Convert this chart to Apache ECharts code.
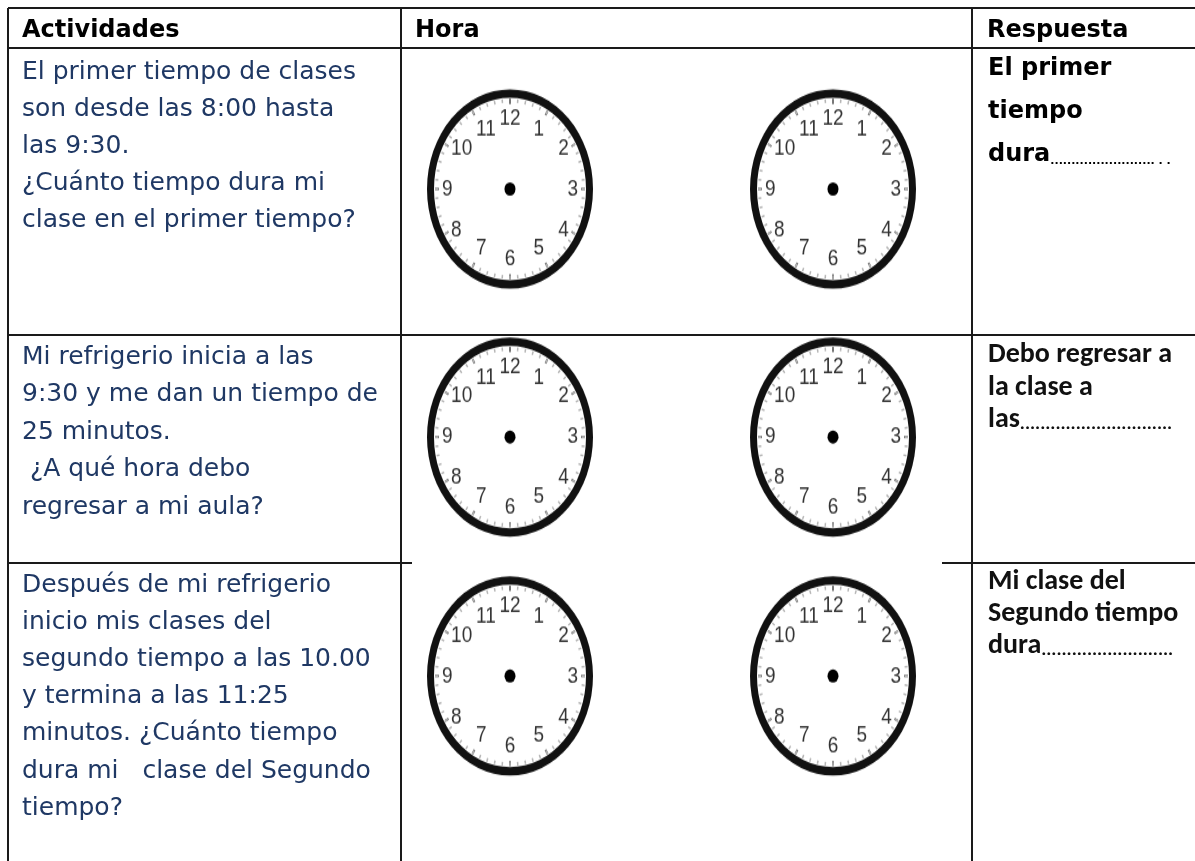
<!DOCTYPE html>
<html><head><meta charset="utf-8">
<script src="https://cdn.jsdelivr.net/npm/echarts@6/dist/echarts.min.js"></script>
<style>
html,body{margin:0;padding:0;background:#fff;}
#main{position:absolute;left:0;top:0;width:1195px;height:861px;}
#clocks{position:absolute;left:0;top:0;width:1195px;height:717.5px;transform:scaleY(1.2);transform-origin:0 0;}
</style></head><body>
<div id="main"></div><div id="clocks"></div>
<script>
// ---- content ----
const headers = ['Actividades', 'Hora', 'Respuesta'];
const activity1 = ['El primer tiempo de clases', 'son desde las 8:00 hasta', 'las 9:30.', '¿Cuánto tiempo dura mi', 'clase en el primer tiempo?'];
const activity2 = ['Mi refrigerio inicia a las', '9:30 y me dan un tiempo de', '25 minutos.', ' ¿A qué hora debo', 'regresar a mi aula?'];
const activity3 = ['Después de mi refrigerio', 'inicio mis clases del', 'segundo tiempo a las 10.00', 'y termina a las 11:25', 'minutos. ¿Cuánto tiempo', 'dura mi   clase del Segundo', 'tiempo?'];
const answer1 = ['El primer', 'tiempo', 'dura......................... . .'];
const answer2 = ['Debo regresar a', 'la clase a', 'las..............................'];
const answer3 = ['Mi clase del', 'Segundo tiempo', 'dura..........................'];
const hourLabels = ['', '1', '2', '3', '4', '5', '6', '7', '8', '9', '10', '11', '12'];
const clockValues = [0, 0, 0, 0, 0, 0]; // blank clocks (no hands)

// ---- layout ----
const G = { left: 8, col1: 401, col2: 972, right: 1195, top: 8, head: 48, row1: 335, row2: 563, bottom: 861 };
const LINE = '#1a1a1a';
const NAVY = '#1f3864';
const COMIC = "'Comic Sans MS', 'DejaVu Sans', sans-serif";
const CALIBRI = "Calibri, Carlito, Lato, sans-serif";

const graphics = [];
function hline(y, x1, x2) { graphics.push({ type: 'line', shape: { x1, y1: y, x2, y2: y }, style: { stroke: LINE, lineWidth: 2 }, silent: true }); }
function vline(x, y1, y2) { graphics.push({ type: 'line', shape: { x1: x, y1, x2: x, y2 }, style: { stroke: LINE, lineWidth: 2 }, silent: true }); }
hline(G.top, G.left, G.right);
hline(G.head, G.left, G.right);
hline(G.row1, G.left, G.right);
hline(G.row2, G.left, 412);
hline(G.row2, 942, G.right);
vline(G.left, G.top, G.bottom);
vline(G.col1, G.top, G.bottom);
vline(G.col2, G.top, G.bottom);

// headers
const headerX = [22, 415, 987];
headers.forEach((h, i) => graphics.push({ type: 'text', x: headerX[i], y: 31, silent: true,
  style: { text: h, fontFamily: COMIC, fontWeight: 'bold', fontSize: 24, fill: '#000', align: 'left', verticalAlign: 'middle' } }));

function lines(arr, x, y0, lh, font) {
  arr.forEach((t, i) => {
    const m = t.match(/^(.*?)(\.{3,}[.\s]*)$/);
    const style = { x: 0, y: 0, align: 'left', verticalAlign: 'middle', fill: font.color };
    if (m) {
      style.text = '{a|' + m[1] + '}{d|' + m[2] + '}';
      style.rich = {
        a: { fontFamily: font.family, fontWeight: font.weight, fontSize: font.size, fill: font.color },
        d: { fontFamily: font.family, fontWeight: font.weight, fontSize: font.dotSize, fill: font.color, verticalAlign: 'bottom' }
      };
    } else {
      style.text = t;
      style.fontFamily = font.family; style.fontWeight = font.weight; style.fontSize = font.size;
    }
    graphics.push({ type: 'text', x, y: y0 + i * lh, silent: true, style });
  });
}
const actFont = { family: COMIC, weight: 'normal', size: 25, color: NAVY };
lines(activity1, 22, 72, 37, actFont);
lines(activity2, 22, 357, 37.5, actFont);
lines(activity3, 22, 585, 37.2, actFont);
lines(answer1, 988, 69, 43, { family: COMIC, weight: 'bold', size: 24, dotSize: 11, color: '#000' });
const calFont = { family: CALIBRI, weight: 'bold', size: 28, dotSize: 19, color: '#111' };
lines(answer2, 988, 355, 32.5, calFont);
lines(answer3, 988, 582, 32, calFont);

const main = echarts.init(document.getElementById('main'), null, { renderer: 'canvas' });
main.setOption({ backgroundColor: '#fff', animation: false, graphic: { elements: graphics } });

// ---- clocks (gauge series, stretched vertically like the scanned sheet) ----
const SY = 1.2;
const clockX = [510, 833];
const clockY = [189, 437, 676];
const series = [];
clockY.forEach((cy, r) => clockX.forEach((cx, c) => {
  series.push({
    type: 'gauge', center: [cx, cy / SY], radius: 83,
    startAngle: 90, endAngle: -270, clockwise: true,
    min: 0, max: 12, splitNumber: 12,
    axisLine: { lineStyle: { width: 7, color: [[1, '#111']] } },
    splitLine: { distance: 1, length: 4, lineStyle: { width: 2, color: '#777' } },
    axisTick: { distance: 1, length: 3, splitNumber: 5, lineStyle: { width: 1.5, color: '#b5b5b5' } },
    axisLabel: { distance: 10, fontSize: 19, color: '#333', fontFamily: 'Liberation Sans, Arial, sans-serif',
      formatter: v => hourLabels[Math.round(v)] },
    pointer: { show: false },
    anchor: { show: true, showAbove: true, size: 11, itemStyle: { color: '#000' } },
    title: { show: false }, detail: { show: false },
    silent: true,
    data: [{ value: clockValues[r * 2 + c] }]
  });
}));
const clocks = echarts.init(document.getElementById('clocks'), null, { renderer: 'canvas' });
clocks.setOption({ animation: false, series });
</script>
</body></html>
